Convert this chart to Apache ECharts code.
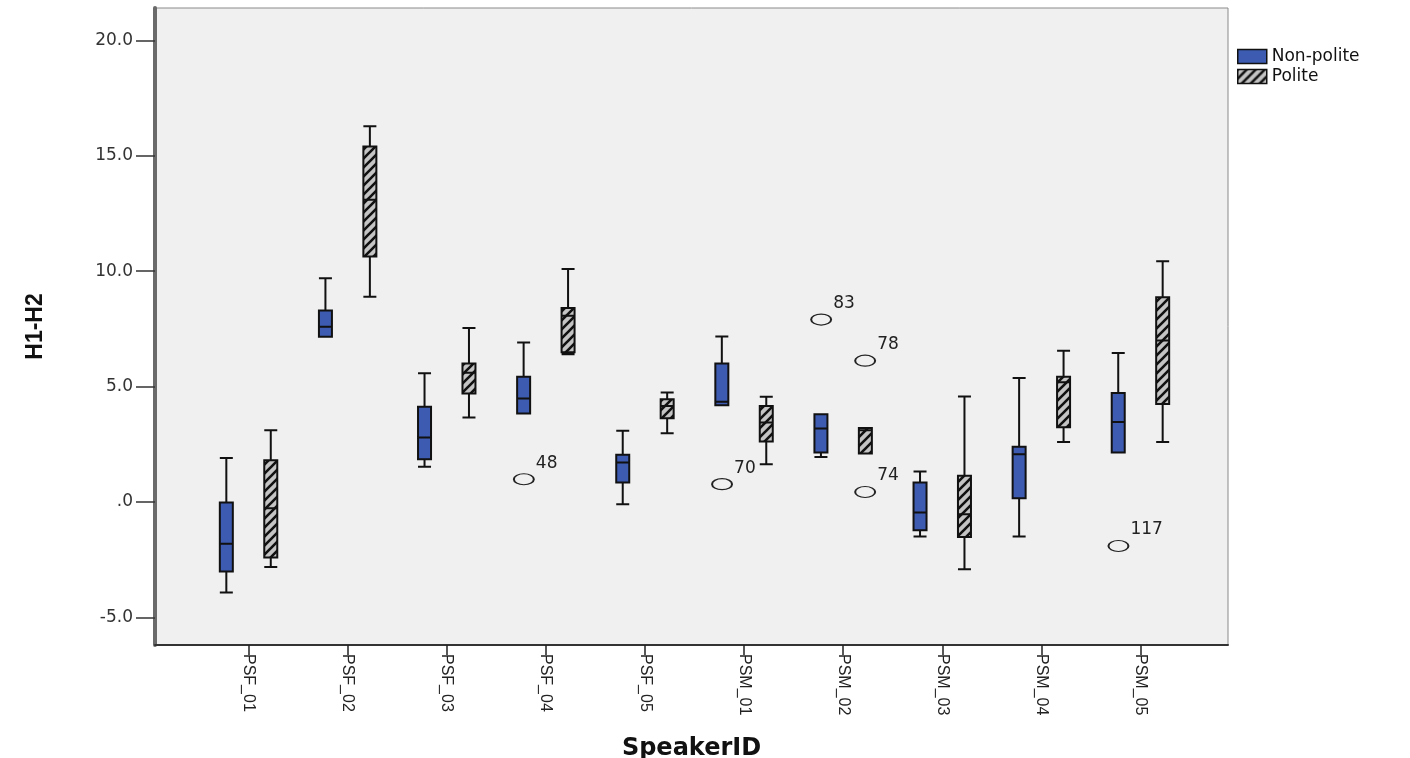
<!DOCTYPE html>
<html><head><meta charset="utf-8">
<script src="https://cdn.jsdelivr.net/npm/echarts@6/dist/echarts.min.js"></script>
<style>html,body{margin:0;padding:0;background:#fff}#c{width:1410px;height:758px}</style>
</head><body><div id="c"></div>
<script>
const categories = ['PSF_01','PSF_02','PSF_03','PSF_04','PSF_05','PSM_01','PSM_02','PSM_03','PSM_04','PSM_05'];
// [min, Q1, median, Q3, max]
const nonPolite = [
  [-3.93, -3.02, -1.81, -0.03, 1.90],
  [7.16, 7.16, 7.59, 8.29, 9.69],
  [1.52, 1.85, 2.79, 4.12, 5.57],
  [3.83, 3.83, 4.48, 5.42, 6.91],
  [-0.10, 0.84, 1.71, 2.04, 3.08],
  [4.19, 4.19, 4.34, 6.00, 7.17],
  [1.95, 2.14, 3.18, 3.80, 3.80],
  [-1.50, -1.23, -0.46, 0.84, 1.32],
  [-1.50, 0.16, 2.07, 2.39, 5.37],
  [2.14, 2.14, 3.46, 4.72, 6.45]
];
const polite = [
  [-2.82, -2.41, -0.27, 1.81, 3.11],
  [8.89, 10.63, 13.09, 15.40, 16.28],
  [3.66, 4.70, 5.60, 6.00, 7.53],
  [6.40, 6.48, 8.07, 8.40, 10.09],
  [2.98, 3.62, 4.16, 4.45, 4.74],
  [1.63, 2.62, 3.44, 4.16, 4.56],
  [2.10, 2.10, 3.10, 3.20, 3.20],
  [-2.92, -1.52, -0.54, 1.13, 4.57],
  [2.60, 3.23, 5.18, 5.42, 6.55],
  [2.60, 4.24, 6.99, 8.87, 10.43]
];
const outliersNonPolite = [['PSF_04', 0.98, '48'], ['PSM_01', 0.77, '70'], ['PSM_02', 7.90, '83'], ['PSM_05', -1.91, '117']];
const outliersPolite = [['PSM_02', 6.12, '78'], ['PSM_02', 0.43, '74']];
const yTicks = [-5, 0, 5, 10, 15, 20];

const FONT = 'Liberation Sans, Arial, sans-serif';
const WIDE = 'DejaVu Sans, Liberation Sans, sans-serif';
const YMIN = -6.2, YMAX = 21.4;

function hatch() {
  const c = document.createElement('canvas');
  c.width = 9; c.height = 9;
  const g = c.getContext('2d');
  g.fillStyle = '#c4c4c4';
  g.fillRect(0, 0, 9, 9);
  g.strokeStyle = '#111';
  g.lineWidth = 2.6;
  g.beginPath();
  g.moveTo(-1, 10); g.lineTo(10, -1);
  g.moveTo(-5, 5); g.lineTo(5, -5);
  g.moveTo(4, 14); g.lineTo(14, 4);
  g.stroke();
  return c;
}
const hatchPattern = { image: hatch(), repeat: 'repeat' };
const BLUE = '#3d5bb0';

const chart = echarts.init(document.getElementById('c'), null, { renderer: 'canvas' });
chart.setOption({
  animation: false,
  backgroundColor: '#fff',
  legend: {
    orient: 'vertical', left: 1232, top: 43, itemWidth: 29, itemHeight: 14, itemGap: 3,
    icon: 'rect',
    textStyle: { fontFamily: WIDE, fontSize: 17, color: '#111' },
    data: [
      { name: 'Non-polite', itemStyle: { color: BLUE, borderColor: '#111', borderWidth: 1.5 } },
      { name: 'Polite', itemStyle: { color: hatchPattern, borderColor: '#111', borderWidth: 1.5 } }
    ]
  },
  grid: [
    { left: 155, right: 182, top: 8, bottom: 113, show: true, backgroundColor: '#f0f0f0', borderColor: '#8a8a8a', borderWidth: 1, outerBoundsMode: 'none', containLabel: false },
    { left: 199, right: 220, top: 8, bottom: 113, outerBoundsMode: 'none', containLabel: false }
  ],
  xAxis: [
    { gridIndex: 0, type: 'value', min: 0, max: 1,
      axisLine: { show: true, onZero: false, lineStyle: { color: '#333', width: 2 } },
      axisTick: { show: false }, axisLabel: { show: false }, splitLine: { show: false },
      name: 'SpeakerID', nameLocation: 'middle', nameGap: 92,
      nameTextStyle: { fontFamily: 'DejaVu Sans, ' + FONT, fontSize: 24, fontWeight: 'bold', color: '#111' } },
    { gridIndex: 1, type: 'category', data: categories, boundaryGap: true,
      axisLine: { show: false, onZero: false },
      axisTick: { show: true, alignWithLabel: true, length: 10, lineStyle: { color: '#222', width: 1.5 } },
      axisLabel: { rotate: -90, margin: 9, fontFamily: FONT, fontSize: 16, color: '#222' },
      splitLine: { show: false } }
  ],
  yAxis: [
    { gridIndex: 0, type: 'value', min: YMIN, max: YMAX,
      axisLine: { show: true, onZero: false, lineStyle: { color: '#6a6a6a', width: 4 } },
      axisTick: { show: true, length: 19, customValues: yTicks, lineStyle: { color: '#333', width: 1.5 } },
      axisLabel: { customValues: yTicks, margin: 22, fontFamily: WIDE, fontSize: 17, color: '#333',
        formatter: v => (v === 0 ? '.0' : Number(v).toFixed(1)) },
      splitLine: { show: false },
      name: 'H1-H2', nameLocation: 'middle', nameGap: 108, nameRotate: 90,
      nameTextStyle: { fontFamily: FONT, fontSize: 23, fontWeight: 'bold', color: '#111' } },
    { gridIndex: 1, type: 'value', min: YMIN, max: YMAX, show: false }
  ],
  series: [
    { name: 'Non-polite', type: 'boxplot', xAxisIndex: 1, yAxisIndex: 1, data: nonPolite,
      boxWidth: [13, 13],
      itemStyle: { color: BLUE, borderColor: '#111', borderWidth: 2 } },
    { name: 'Polite', type: 'boxplot', xAxisIndex: 1, yAxisIndex: 1, data: polite,
      boxWidth: [13, 13],
      itemStyle: { color: hatchPattern, borderColor: '#111', borderWidth: 2 } },
    { name: 'outNP', type: 'scatter', xAxisIndex: 1, yAxisIndex: 1, data: outliersNonPolite,
      symbol: 'circle', symbolSize: [20, 11], symbolOffset: [-22, 0],
      itemStyle: { color: 'rgba(0,0,0,0)', borderColor: '#222', borderWidth: 1.5, opacity: 1 },
      label: { show: true, position: 'right', offset: [-4, -16], formatter: p => p.data[2], fontFamily: WIDE, fontSize: 17, color: '#222' } },
    { name: 'outP', type: 'scatter', xAxisIndex: 1, yAxisIndex: 1, data: outliersPolite,
      symbol: 'circle', symbolSize: [20, 11], symbolOffset: [22, 0],
      itemStyle: { color: 'rgba(0,0,0,0)', borderColor: '#222', borderWidth: 1.5, opacity: 1 },
      label: { show: true, position: 'right', offset: [-4, -16], formatter: p => p.data[2], fontFamily: WIDE, fontSize: 17, color: '#222' } }
  ]
});
</script></body></html>
